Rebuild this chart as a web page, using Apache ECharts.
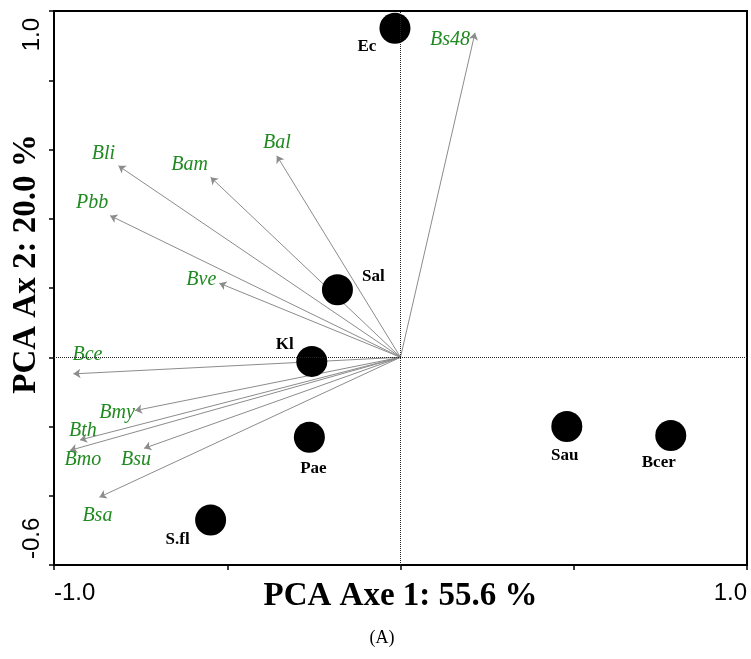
<!DOCTYPE html>
<html>
<head>
<meta charset="utf-8">
<script src="https://cdn.jsdelivr.net/npm/echarts@6/dist/echarts.min.js"></script>
<style>html,body{margin:0;padding:0;background:#fff}#c{width:751px;height:659px}</style>
</head>
<body>
<div id="c"></div>
<script>
// Sample scores (black circles)
const pointNames = ['Ec', 'Sal', 'Kl', 'Pae', 'S.fl', 'Sau', 'Bcer'];
const pointX = [-0.016, -0.182, -0.256, -0.263, -0.548, 0.48, 0.78];
const pointY = [0.95, 0.195, -0.012, -0.231, -0.47, -0.20, -0.226];

// Variable loadings (arrows)
const varNames = ['Bs48', 'Bal', 'Bam', 'Bli', 'Pbb', 'Bve', 'Bce', 'Bmy', 'Bth', 'Bmo', 'Bsu', 'Bsa'];
const varX = [0.215, -0.357, -0.548, -0.814, -0.838, -0.523, -0.944, -0.766, -0.925, -0.954, -0.740, -0.869];
const varY = [0.937, 0.582, 0.520, 0.553, 0.409, 0.214, -0.048, -0.154, -0.239, -0.269, -0.263, -0.404];

// Axis tick labels
const xTickLabels = ['-1.0', '1.0'];
const yTickLabels = ['-0.6', '1.0'];

// label placement (style, pixels)
const pointLabelOffsets = [[-28, 18], [36, -13], [-27, -17], [4, 31], [-33, 20], [-2, 29], [-12, 27]];
const varLabelOffsets = [[-25, 7], [0, -13], [-21, -12], [-15, -12], [-18, -13], [-18, -3], [14, -19], [-18, 2], [3, -9], [13, 9], [-8, 11], [-2, 19]];

const chart = echarts.init(document.getElementById('c'));
const near = (a, b) => Math.abs(a - b) < 1e-6;

const arrowData = varNames.map((n, i) => ({ coords: [[0, 0], [varX[i], varY[i]]] }));
const varLabelData = varNames.map((n, i) => ({
  name: n, value: [varX[i], varY[i]],
  label: { offset: varLabelOffsets[i] }
}));
const pointData = pointNames.map((n, i) => ({
  name: n, value: [pointX[i], pointY[i]],
  label: { offset: pointLabelOffsets[i] }
}));

chart.setOption({
  animation: false,
  backgroundColor: '#fff',
  grid: {
    left: 54, right: 4, top: 11, bottom: 94,
    show: true, borderColor: '#000', borderWidth: 2,
    outerBoundsMode: 'none', containLabel: false
  },
  xAxis: {
    type: 'value', min: -1, max: 1, interval: 0.5,
    name: 'PCA Axe 1: 55.6 %', nameLocation: 'middle', nameGap: 15, nameMoveOverlap: false,
    nameTextStyle: { fontFamily: 'Liberation Serif', fontWeight: 'bold', fontSize: 33, color: '#000', verticalAlign: 'top' },
    axisLine: { show: true, onZero: false, lineStyle: { color: '#000', width: 2 } },
    axisTick: { show: true, inside: false, length: 5, lineStyle: { color: '#000', width: 1.5 } },
    axisLabel: {
      show: true, margin: 16, fontFamily: 'Liberation Sans', fontSize: 24, color: '#000',
      alignMinLabel: 'left', alignMaxLabel: 'right',
      formatter: v => near(v, -1) ? xTickLabels[0] : (near(v, 1) ? xTickLabels[1] : '')
    },
    splitLine: { show: false }
  },
  yAxis: {
    type: 'value', min: -0.6, max: 1.0, interval: 0.2,
    axisLine: { show: true, onZero: false, lineStyle: { color: '#000', width: 2 } },
    axisTick: { show: true, inside: false, length: 5, lineStyle: { color: '#000', width: 1.5 } },
    axisLabel: {
      show: true, rotate: 90, margin: 10, fontFamily: 'Liberation Sans', fontSize: 24, color: '#000',
      alignMinLabel: 'left', alignMaxLabel: 'right', padding: [0, 7, 0, 6],
      formatter: v => near(v, -0.6) ? yTickLabels[0] : (near(v, 1) ? yTickLabels[1] : '')
    },
    splitLine: { show: false }
  },
  graphic: [
    {
      type: 'text', x: 26, y: 264, rotation: Math.PI / 2,
      style: {
        text: 'PCA Ax 2: 20.0 %', fontFamily: 'Liberation Serif', fontWeight: 'bold', fontSize: 33,
        fill: '#000', align: 'center', verticalAlign: 'middle'
      }
    },
    {
      type: 'text', x: 382, y: 638,
      style: { text: '(A)', fontFamily: 'Liberation Serif', fontSize: 18, fill: '#000', align: 'center', verticalAlign: 'middle' }
    }
  ],
  series: [
    {
      type: 'lines', coordinateSystem: 'cartesian2d', z: 2,
      data: arrowData,
      symbol: ['none', 'arrow'], symbolSize: [0, 7],
      lineStyle: { color: '#8c8c8c', width: 1, opacity: 1 },
      silent: true,
      markLine: {
        silent: true, symbol: 'none', animation: false,
        label: { show: false },
        lineStyle: { type: 'dotted', color: '#222', width: 1 },
        data: [{ xAxis: 0 }, { yAxis: 0 }]
      }
    },
    {
      type: 'scatter', z: 3, symbolSize: 0, silent: true,
      itemStyle: { opacity: 1 },
      data: varLabelData,
      label: {
        show: true, position: 'inside', formatter: '{b}',
        fontFamily: 'Liberation Serif', fontStyle: 'italic', fontSize: 20, color: '#1f8a1f'
      }
    },
    {
      type: 'scatter', z: 4, symbolSize: 31, silent: true,
      itemStyle: { color: '#000', opacity: 1 },
      data: pointData,
      label: {
        show: true, position: 'inside', formatter: '{b}',
        fontFamily: 'Liberation Serif', fontWeight: 'bold', fontSize: 17, color: '#000'
      }
    }
  ]
});
</script>
</body>
</html>
